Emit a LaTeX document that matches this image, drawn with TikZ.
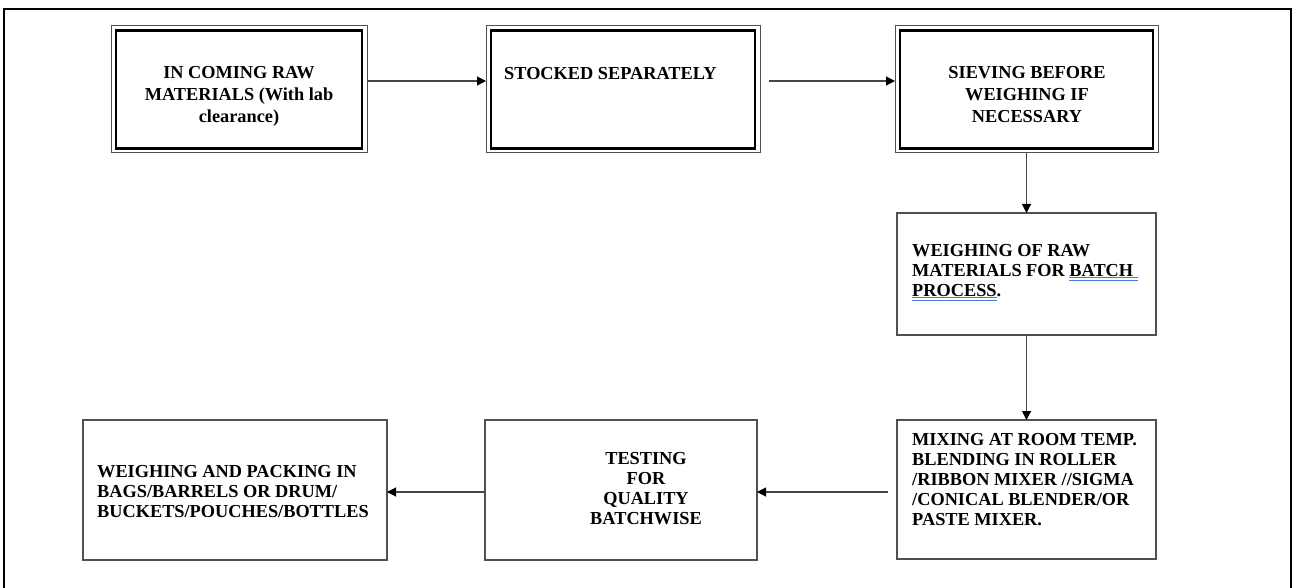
\documentclass[tikz,border=0pt]{standalone}
\usepackage{fontspec}
\setmainfont{Liberation Serif}
\usetikzlibrary{arrows.meta,calc}
\definecolor{ulblue}{HTML}{4A7BD9}
\definecolor{boxgray}{HTML}{505050}
\definecolor{linegray}{HTML}{454545}
\newsavebox\ulbox
\newcommand\blueul[1]{\sbox\ulbox{#1}\rlap{\color{ulblue}\rule[-1.4pt]{\wd\ulbox}{0.9pt}}\rlap{\color{ulblue}\rule[-4.4pt]{\wd\ulbox}{0.9pt}}\usebox\ulbox}
\tikzset{
  dbox/.style={draw=boxgray, line width=1pt, outer sep=0pt, inner sep=0pt},
  sbox/.style={draw=boxgray, line width=1.2pt, outer sep=0pt, inner sep=0pt},
  thickin/.style={draw=black, line width=2.6pt},
  toptxt/.style={inner sep=0pt, font=\fontsize{18.3pt}{22pt}\selectfont\bfseries},
  lowtxt/.style={inner sep=0pt, font=\fontsize{18.3pt}{20pt}\selectfont\bfseries},
  arr/.style={draw=linegray, line width=1.1pt, -{Triangle[length=9pt,width=9pt,color=black]}},
  frame/.style={draw=black, line width=2pt}
}
\begin{document}
\begin{tikzpicture}[x=1pt,y=-1pt]
\useasboundingbox (0,0) rectangle (1303,588);
% outer frame (open at the bottom)
\draw[frame] (4,592) -- (4,9) -- (1290.5,9) -- (1290.5,592);

% top row: double-bordered boxes
\node[dbox, minimum width=256pt, minimum height=127pt] (b1) at (239,89.5) {};
\node[dbox, minimum width=274pt, minimum height=127pt] (b2) at (623,89.5) {};
\node[dbox, minimum width=263pt, minimum height=127pt] (b3) at (1026.5,89.5) {};
\foreach \b in {b1,b2,b3}{
  \draw[thickin] ($(\b.north west)+(5,4.5)$) rectangle ($(\b.south east)+(-5,-4.5)$);
}
% right column and bottom row
\node[sbox, minimum width=259pt, minimum height=122pt] (b4) at (1026.5,274) {};
\node[sbox, minimum width=259pt, minimum height=139pt] (b5) at (1026.5,489.5) {};
\node[sbox, minimum width=272pt, minimum height=140pt] (b6) at (621,490) {};
\node[sbox, minimum width=304pt, minimum height=140pt] (b7) at (235,490) {};

% texts (base anchor = baseline of the last line)
\node[toptxt, anchor=base, align=center] (t1) at (239,123) {IN COMING RAW\\MATERIALS (With lab\\clearance)};
\node[toptxt, anchor=base west] (t2) at (504,80) {STOCKED SEPARATELY};
\node[toptxt, anchor=base, align=center] (t3) at (1027,123) {SIEVING BEFORE\\WEIGHING IF\\NECESSARY};
\node[lowtxt, anchor=base west, align=left] (t4) at (912,296.7) {WEIGHING OF RAW\\MATERIALS FOR \blueul{BATCH\ }\\\blueul{PROCESS}.};
\node[lowtxt, anchor=base west, align=left] (t5) at (912,525) {MIXING AT ROOM TEMP.\\BLENDING IN ROLLER\\/RIBBON MIXER //SIGMA\\/CONICAL BLENDER/OR\\PASTE MIXER.};
\node[lowtxt, anchor=base, align=center] (t6) at (646,524.3) {TESTING\\\hspace*{0pt}FOR\hspace*{22pt}\\QUALITY\hspace*{6pt}\\BATCHWISE};
\node[lowtxt, anchor=base west, align=left] (t7) at (97,517.3) {WEIGHING AND PACKING IN\\BAGS/BARRELS OR DRUM/\\BUCKETS/POUCHES/BOTTLES};

% connectors
\draw[arr] ([yshift=8.5pt]b1.east) -- ([yshift=8.5pt]b2.west);
\draw[arr, shorten <=9pt] ([yshift=8.5pt]b2.east) -- ([yshift=8.5pt]b3.west);
\draw[arr] (b3.south) -- (b4.north);
\draw[arr] (b4.south) -- (b5.north);
\draw[arr, shorten <=9pt] ([yshift=-2.5pt]b5.west) -- ([yshift=-2pt]b6.east);
\draw[arr] ([yshift=-2pt]b6.west) -- ([yshift=-2pt]b7.east);
\end{tikzpicture}
\end{document}
